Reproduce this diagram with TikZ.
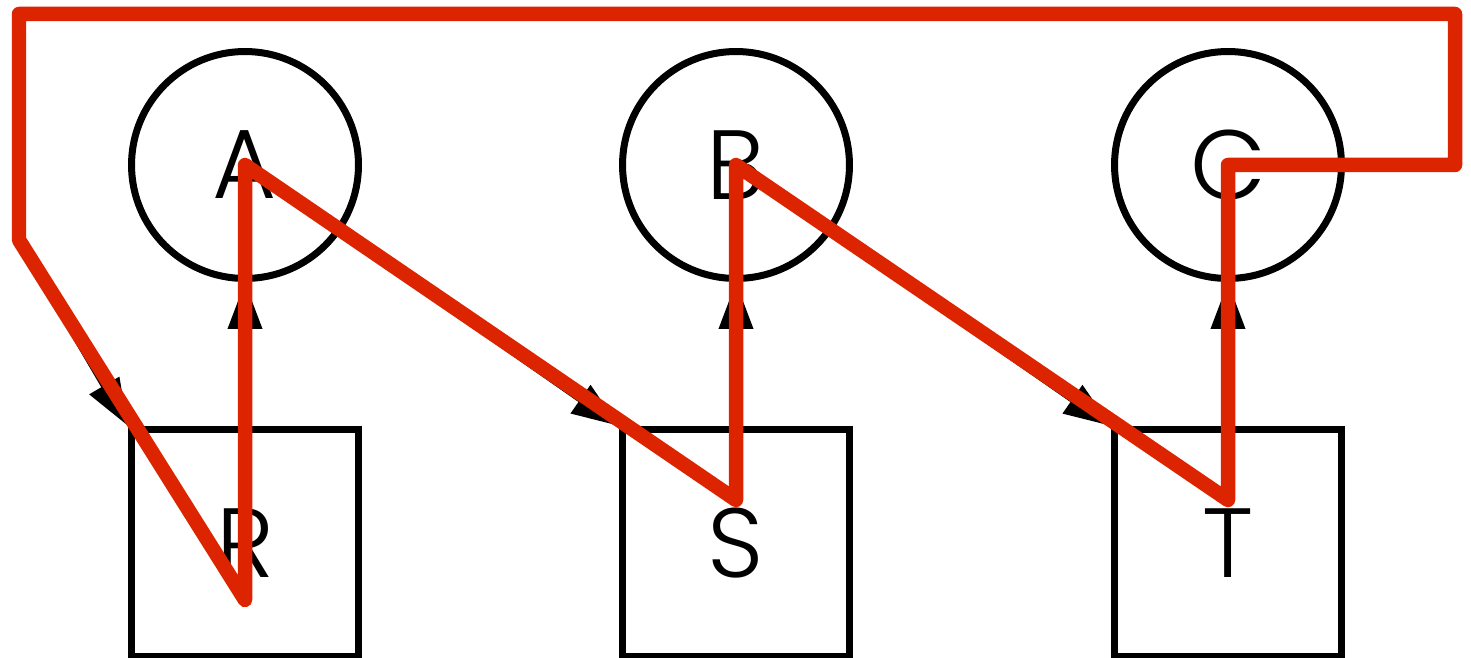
\documentclass[tikz,border=0pt]{standalone}
\usepackage{fontspec}
\setmainfont{Poppins}[UprightFont=* Light]
\usepackage{tikz}
\usetikzlibrary{arrows.meta,positioning,calc}
\definecolor{walkred}{RGB}{221,36,0}

\begin{document}
\begin{tikzpicture}[x=0.02cm,y=-0.02cm,
  state/.style={circle,draw,line width=0.14cm,minimum size=4.54cm,inner sep=0pt,font=\fontsize{56}{60}\selectfont},
  box/.style={rectangle,draw,line width=0.14cm,minimum size=4.54cm,inner sep=0pt,font=\fontsize{56}{60}\selectfont},
  edge/.style={line width=0.14cm,-{Triangle[length=0.94cm,width=0.66cm]}},
  walk/.style={walkred,line width=0.29cm,line join=round,line cap=round}]
\useasboundingbox (0,0) rectangle (1471,658);
\foreach \n/\x in {A/245,B/736,C/1228}{
  \node[state] (\n) at (\x,165) {\n};}
\foreach \n/\x in {R/245,S/736,T/1228}{
  \node[box] (\n) at (\x,543) {\n};}
% corners of the loop back
\coordinate (k1) at (1455,165);
\coordinate (k2) at (1455,14);
\coordinate (k3) at (19,14);
\coordinate (k4) at (19,240);
\draw[edge] (R) -- (A);
\draw[edge] (A) -- (S.north west);
\draw[edge] (S) -- (B);
\draw[edge] (B) -- (T.north west);
\draw[edge] (T) -- (C);
\draw[edge] (C) -- (k1) -- (k2) -- (k3) -- (k4) -- (R.north west);
% the red walk
\coordinate (r0) at (245,600);
\coordinate (s0) at (736,500);
\coordinate (t0) at (1228,500);
\draw[walk] (r0) -- (A.center) -- (s0) -- (B.center) -- (t0) -- (C.center)
  -- (k1) -- (k2) -- (k3) -- (k4) -- cycle;
\end{tikzpicture}
\end{document}
